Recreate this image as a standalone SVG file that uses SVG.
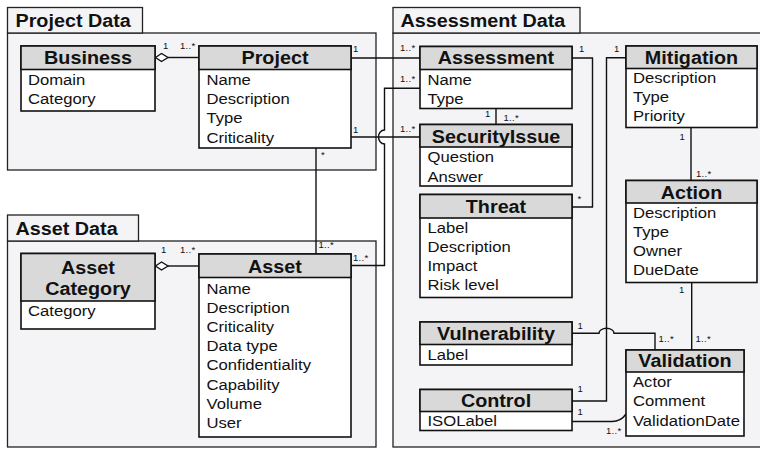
<svg xmlns="http://www.w3.org/2000/svg" width="760" height="449" viewBox="0 0 760 449">
<style>
.bg{fill:#ffffff}
.pkg{fill:#f4f4f6;stroke:#222;stroke-width:1.3}
.box{fill:#fff;stroke:#111;stroke-width:1.6}
.hdr{fill:#d9d9d9;stroke:#111;stroke-width:1.6}
.ttl{font-family:"Liberation Sans",Arial,sans-serif;font-weight:bold;font-size:17.5px;text-anchor:middle;fill:#111}
.pk{font-family:"Liberation Sans",Arial,sans-serif;font-weight:bold;font-size:17.5px;fill:#111}
.att{font-family:"Liberation Sans",Arial,sans-serif;font-size:15px;fill:#111}
.m{font-family:"Liberation Sans",Arial,sans-serif;font-size:9.5px;letter-spacing:0.3px;fill:#111}
.c{fill:none;stroke:#111;stroke-width:1.4}
.dia{fill:#fff;stroke:#111;stroke-width:1.4}
</style>
<rect class="bg" x="0" y="0" width="760" height="449"/>

<g id="pkg-project">
<rect class="pkg" x="7.5" y="33" width="368.5" height="137"/>
<rect class="pkg" x="7.5" y="7.5" width="135" height="25.5"/>
<text class="pk" transform="translate(15.5,26.5) scale(1.13,1)">Project Data</text>
</g>
<g id="pkg-asset">
<rect class="pkg" x="7.5" y="241" width="368.5" height="206"/>
<rect class="pkg" x="7.5" y="215" width="131" height="26"/>
<text class="pk" transform="translate(15.5,235) scale(1.13,1)">Asset Data</text>
</g>
<g id="pkg-assessment">
<rect class="pkg" x="393" y="33" width="380" height="414"/>
<rect class="pkg" x="393" y="7.5" width="187" height="25.5"/>
<text class="pk" transform="translate(400.5,26.5) scale(1.13,1)">Assessment Data</text>
</g>

<g id="connectors">
<path class="c" d="M168,57.5 H199"/>
<polygon class="dia" points="155.5,57.5 161.5,53.5 168,57.5 161.5,61.5"/>
<text class="m" x="163" y="49">1</text>
<text class="m" x="180" y="49">1..*</text>
<path class="c" d="M168,266 H199"/>
<polygon class="dia" points="155.5,266 161.5,262 168,266 161.5,270"/>
<text class="m" x="161" y="253">1</text>
<text class="m" x="180" y="253">1..*</text>
<path class="c" d="M351,58 H420"/>
<text class="m" x="353" y="52">1</text>
<text class="m" x="400" y="51">1..*</text>
<path class="c" d="M351,137 H420"/>
<text class="m" x="353" y="133">1</text>
<text class="m" x="400" y="132">1..*</text>
<path class="c" d="M351,265.5 H384.5 V144 A6,7 0 0 1 384.5,130 V88.3 H420"/>
<text class="m" x="353" y="261">1..*</text>
<text class="m" x="400" y="82">1..*</text>
<path class="c" d="M316,148 V254"/>
<text class="m" x="321" y="158">*</text>
<text class="m" x="318.5" y="248">1..*</text>
<path class="c" d="M496,108.5 V124.5"/>
<text class="m" x="485" y="117">1</text>
<text class="m" x="503.5" y="121">1..*</text>
<path class="c" d="M572,58 H592.5 V207 H572"/>
<text class="m" x="579" y="52">1</text>
<text class="m" x="577.5" y="202">*</text>
<path class="c" d="M626,57.7 H606.5 V401 H572"/>
<text class="m" x="614" y="52">1</text>
<text class="m" x="577.5" y="392">1</text>
<path class="c" d="M691,127.5 V180.5"/>
<text class="m" x="679.5" y="140">1</text>
<text class="m" x="696" y="177">1..*</text>
<path class="c" d="M572,333.3 H599 A7.5,5 0 0 1 614,333.3 H655 V350"/>
<text class="m" x="577.5" y="328.5">1</text>
<text class="m" x="658.5" y="342">1..*</text>
<path class="c" d="M691.7,282.5 V350"/>
<text class="m" x="679" y="293">1</text>
<text class="m" x="695.5" y="342">1..*</text>
<path class="c" d="M572,421.5 H612 Q621,421.5 626,414"/>
<text class="m" x="577.5" y="415">1</text>
<text class="m" x="606" y="433.5">1..*</text>
</g>

<g id="business">
<rect class="box" x="21" y="46" width="134" height="65"/>
<rect class="hdr" x="21" y="46" width="134" height="23.5"/>
<text class="ttl" transform="translate(88,64) scale(1.13,1)">Business</text>
<text class="att" transform="translate(28,84.5) scale(1.11,1)">Domain</text>
<text class="att" transform="translate(28,103.5) scale(1.11,1)">Category</text>
</g>

<g id="project">
<rect class="box" x="199" y="46" width="152" height="102"/>
<rect class="hdr" x="199" y="46" width="152" height="23.5"/>
<text class="ttl" transform="translate(275,64) scale(1.13,1)">Project</text>
<text class="att" transform="translate(206.5,85) scale(1.11,1)">Name</text>
<text class="att" transform="translate(206.5,104.2) scale(1.11,1)">Description</text>
<text class="att" transform="translate(206.5,123.4) scale(1.11,1)">Type</text>
<text class="att" transform="translate(206.5,142.6) scale(1.11,1)">Criticality</text>
</g>

<g id="asset-category">
<rect class="box" x="21" y="253.5" width="134" height="75.5"/>
<rect class="hdr" x="21" y="253.5" width="134" height="47.5"/>
<text class="ttl" transform="translate(88,274) scale(1.13,1)">Asset</text>
<text class="ttl" transform="translate(88,294.5) scale(1.13,1)">Category</text>
<text class="att" transform="translate(28,316) scale(1.11,1)">Category</text>
</g>

<g id="asset">
<rect class="box" x="199" y="254" width="152" height="183"/>
<rect class="hdr" x="199" y="254" width="152" height="23.5"/>
<text class="ttl" transform="translate(275,272.5) scale(1.13,1)">Asset</text>
<text class="att" transform="translate(206.5,293.5) scale(1.11,1)">Name</text>
<text class="att" transform="translate(206.5,312.7) scale(1.11,1)">Description</text>
<text class="att" transform="translate(206.5,331.9) scale(1.11,1)">Criticality</text>
<text class="att" transform="translate(206.5,351.1) scale(1.11,1)">Data type</text>
<text class="att" transform="translate(206.5,370.3) scale(1.11,1)">Confidentiality</text>
<text class="att" transform="translate(206.5,389.5) scale(1.11,1)">Capability</text>
<text class="att" transform="translate(206.5,408.7) scale(1.11,1)">Volume</text>
<text class="att" transform="translate(206.5,427.9) scale(1.11,1)">User</text>
</g>

<g id="assessment">
<rect class="box" x="420" y="46.5" width="152" height="62"/>
<rect class="hdr" x="420" y="46.5" width="152" height="23"/>
<text class="ttl" transform="translate(496,64) scale(1.13,1)">Assessment</text>
<text class="att" transform="translate(427.5,84.5) scale(1.11,1)">Name</text>
<text class="att" transform="translate(427.5,103.5) scale(1.11,1)">Type</text>
</g>

<g id="security-issue">
<rect class="box" x="420" y="124.5" width="152" height="61.5"/>
<rect class="hdr" x="420" y="124.5" width="152" height="22.5"/>
<text class="ttl" transform="translate(496,142.5) scale(1.13,1)">SecurityIssue</text>
<text class="att" transform="translate(427.5,162.3) scale(1.11,1)">Question</text>
<text class="att" transform="translate(427.5,181.5) scale(1.11,1)">Answer</text>
</g>

<g id="threat">
<rect class="box" x="420" y="194.5" width="152" height="103"/>
<rect class="hdr" x="420" y="194.5" width="152" height="23.5"/>
<text class="ttl" transform="translate(496,213) scale(1.13,1)">Threat</text>
<text class="att" transform="translate(427.5,233.3) scale(1.11,1)">Label</text>
<text class="att" transform="translate(427.5,252.1) scale(1.11,1)">Description</text>
<text class="att" transform="translate(427.5,270.9) scale(1.11,1)">Impact</text>
<text class="att" transform="translate(427.5,289.7) scale(1.11,1)">Risk level</text>
</g>

<g id="vulnerability">
<rect class="box" x="420" y="322" width="152" height="43"/>
<rect class="hdr" x="420" y="322" width="152" height="22.5"/>
<text class="ttl" transform="translate(496,340) scale(1.13,1)">Vulnerability</text>
<text class="att" transform="translate(427.5,360) scale(1.11,1)">Label</text>
</g>

<g id="control">
<rect class="box" x="420" y="389.5" width="152" height="41"/>
<rect class="hdr" x="420" y="389.5" width="152" height="22"/>
<text class="ttl" transform="translate(496,407.3) scale(1.13,1)">Control</text>
<text class="att" transform="translate(427.5,426.3) scale(1.11,1)">ISOLabel</text>
</g>

<g id="mitigation">
<rect class="box" x="626" y="46" width="131" height="81.5"/>
<rect class="hdr" x="626" y="46" width="131" height="22.5"/>
<text class="ttl" transform="translate(691.5,64) scale(1.13,1)">Mitigation</text>
<text class="att" transform="translate(633,83.3) scale(1.11,1)">Description</text>
<text class="att" transform="translate(633,102.3) scale(1.11,1)">Type</text>
<text class="att" transform="translate(633,121.3) scale(1.11,1)">Priority</text>
</g>

<g id="action">
<rect class="box" x="626" y="180.5" width="131" height="102"/>
<rect class="hdr" x="626" y="180.5" width="131" height="22.5"/>
<text class="ttl" transform="translate(691.5,198.5) scale(1.13,1)">Action</text>
<text class="att" transform="translate(633,218) scale(1.11,1)">Description</text>
<text class="att" transform="translate(633,237) scale(1.11,1)">Type</text>
<text class="att" transform="translate(633,256) scale(1.11,1)">Owner</text>
<text class="att" transform="translate(633,275) scale(1.11,1)">DueDate</text>
</g>

<g id="validation">
<rect class="box" x="626" y="350" width="118" height="86"/>
<rect class="hdr" x="626" y="350" width="118" height="22"/>
<text class="ttl" transform="translate(685,367) scale(1.13,1)">Validation</text>
<text class="att" transform="translate(633,386.7) scale(1.11,1)">Actor</text>
<text class="att" transform="translate(633,406.2) scale(1.11,1)">Comment</text>
<text class="att" transform="translate(633,425.7) scale(1.11,1)">ValidationDate</text>
</g>
</svg>
